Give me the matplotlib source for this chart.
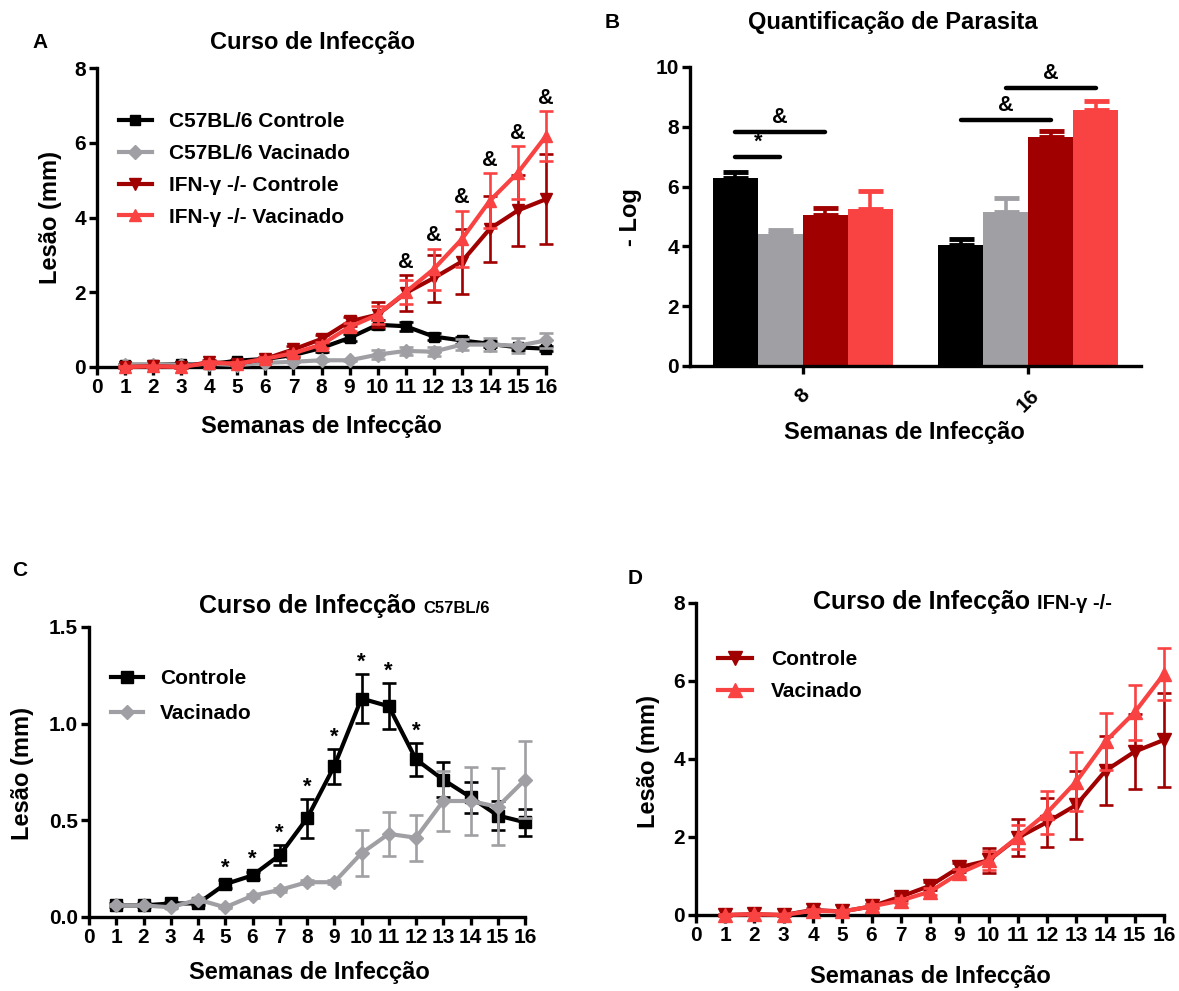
import numpy as np
import matplotlib
matplotlib.use("Agg")
import matplotlib.pyplot as plt

plt.rcParams["font.family"] = ["Liberation Sans", "DejaVu Sans"]
plt.rcParams["font.weight"] = "bold"

# ---- data -------------------------------------------------------------
weeks = list(range(1, 17))
week_ticks = list(range(0, 17))

c57_ctrl = [0.06, 0.06, 0.07, 0.07, 0.17, 0.215, 0.32, 0.51, 0.78, 1.13, 1.09, 0.815, 0.71, 0.62, 0.525, 0.49]
c57_ctrl_sem = [0.01, 0.01, 0.01, 0.01, 0.02, 0.02, 0.05, 0.10, 0.09, 0.125, 0.12, 0.085, 0.09, 0.08, 0.075, 0.07]
c57_vac = [0.06, 0.06, 0.05, 0.09, 0.05, 0.11, 0.14, 0.18, 0.18, 0.33, 0.43, 0.41, 0.60, 0.60, 0.57, 0.71]
c57_vac_sem = [0.005, 0.005, 0.005, 0.01, 0.005, 0.01, 0.01, 0.01, 0.01, 0.12, 0.115, 0.12, 0.155, 0.175, 0.20, 0.20]

ifn_ctrl = [0.0, 0.02, 0.0, 0.13, 0.09, 0.22, 0.47, 0.75, 1.22, 1.40, 1.98, 2.38, 2.82, 3.70, 4.19, 4.49]
ifn_ctrl_sem = [0.02, 0.02, 0.02, 0.05, 0.04, 0.05, 0.08, 0.10, 0.12, 0.33, 0.47, 0.63, 0.86, 0.88, 0.96, 1.20]
ifn_vac = [0.0, 0.02, 0.0, 0.11, 0.09, 0.22, 0.37, 0.60, 1.07, 1.40, 2.00, 2.62, 3.42, 4.45, 5.20, 6.18]
ifn_vac_sem = [0.02, 0.02, 0.02, 0.04, 0.04, 0.05, 0.07, 0.08, 0.10, 0.24, 0.32, 0.55, 0.75, 0.73, 0.70, 0.66]

# significance marks
amp_weeks_A = [11, 12, 13, 14, 15, 16]
star_weeks_C = [5, 6, 7, 8, 9, 10, 11, 12]

# parasite load (-log) at 8 and 16 weeks
bar_weeks = ["8", "16"]
bar_groups = ["C57BL/6 Controle", "C57BL/6 Vacinado", "IFN-γ -/- Controle", "IFN-γ -/- Vacinado"]
load_w8 = [6.30, 4.40, 5.05, 5.25]
load_w8_err = [0.20, 0.15, 0.22, 0.60]
load_w16 = [4.05, 5.15, 7.65, 8.55]
load_w16_err = [0.20, 0.48, 0.22, 0.30]

# comparison brackets: (week index, group a, group b, height, symbol)
brackets = [
    (0, 0, 1, 7.0, "*"),
    (0, 0, 2, 7.83, "&"),
    (1, 0, 2, 8.22, "&"),
    (1, 1, 3, 9.30, "&"),
]

# ---- style ------------------------------------------------------------
BLACK = "#000000"
GRAY = "#a0a0a4"
DARK = "#a00000"
RED = "#f94343"

TICK_FS = 15
LABEL_FS = 17
LEG_FS = 15
MARK_FS = 15.5

W, H = 1179, 991
fig = plt.figure(figsize=(W / 100, H / 100), dpi=100)


def px_axes(x0, y0, x1, y1):
    return fig.add_axes([x0 / W, 1 - y1 / H, (x1 - x0) / W, (y1 - y0) / H])


def style(ax, xticks, yticks, ylim, xlim):
    for s in ("top", "right"):
        ax.spines[s].set_visible(False)
    for s in ("left", "bottom"):
        ax.spines[s].set_linewidth(2.4)
    ax.tick_params(width=2.4, length=6, labelsize=TICK_FS, pad=2)
    ax.set_xticks(xticks)
    ax.set_yticks(yticks)
    ax.set_ylim(*ylim)
    ax.set_xlim(*xlim)


def series(ax, y, err, color, marker, ms, z):
    cont = ax.errorbar(weeks, y, yerr=err, color=color, lw=3.0, marker=marker,
                       ms=ms, capsize=5, elinewidth=1.9, capthick=1.9, zorder=z)
    for art in cont.get_children():
        art.set_clip_on(False)
    return cont


def ftext(x, y, s, **kw):
    kw.setdefault("ha", "center")
    kw.setdefault("va", "center")
    return fig.text(x / W, 1 - y / H, s, **kw)


def legend(ax, handles, labels, x, y, spacing, hl, pad):
    ax.legend(handles, labels, loc="upper left",
              bbox_to_anchor=(x / W, 1 - y / H), bbox_transform=fig.transFigure,
              frameon=False, fontsize=LEG_FS, borderpad=0, borderaxespad=0,
              handlelength=hl, handletextpad=pad, labelspacing=spacing, numpoints=1)


# ---- A ----------------------------------------------------------------
axA = px_axes(97, 68, 546, 367)
style(axA, week_ticks, [0, 2, 4, 6, 8], (0, 8), (0, 16))
hA = [
    series(axA, c57_ctrl, c57_ctrl_sem, BLACK, "s", 7.8, 3),
    series(axA, c57_vac, c57_vac_sem, GRAY, "D", 6.8, 4),
    series(axA, ifn_ctrl, ifn_ctrl_sem, DARK, "v", 8.8, 5),
    series(axA, ifn_vac, ifn_vac_sem, RED, "^", 8.8, 6),
]
for w in amp_weeks_A:
    i = weeks.index(w)
    top = max(ifn_vac[i] + ifn_vac_sem[i], ifn_ctrl[i] + ifn_ctrl_sem[i])
    axA.annotate("&", (w, top), xytext=(0, 2), textcoords="offset points",
                 ha="center", va="bottom", fontsize=MARK_FS)
legend(axA, [h[0] for h in hA], bar_groups, 119, 112, 0.62, 1.58, 0.82)
ftext(40, 42, "A", fontsize=15)
ftext(313, 42, "Curso de Infecção", fontsize=17)
ftext(51, 218, "Lesão (mm)", fontsize=LABEL_FS, rotation=90)
ftext(321, 427, "Semanas de Infecção", fontsize=LABEL_FS)

# ---- B ----------------------------------------------------------------
axB = px_axes(690, 67, 1141, 366)
style(axB, [0, 1], [0, 2, 4, 6, 8, 10], (0, 10), (-0.5, 1.5))
bw = 0.2
colors = [BLACK, GRAY, DARK, RED]
offsets = [-1.5 * bw, -0.5 * bw, 0.5 * bw, 1.5 * bw]
for k in range(4):
    xs = [0 + offsets[k], 1 + offsets[k]]
    vals = [load_w8[k], load_w16[k]]
    errs = [load_w8_err[k], load_w16_err[k]]
    axB.bar(xs, vals, width=bw, color=colors[k], zorder=2)
    axB.errorbar(xs, vals, yerr=[[0, 0], errs], fmt="none", ecolor=colors[k],
                 elinewidth=2.6, capsize=9, capthick=3.5, zorder=1)
for wi, a, b, hgt, sym in brackets:
    xa, xb = wi + offsets[a], wi + offsets[b]
    axB.plot([xa, xb], [hgt, hgt], color=BLACK, lw=3.2, solid_capstyle="round")
    axB.annotate(sym, ((xa + xb) / 2, hgt), xytext=(0, 3), textcoords="offset points",
                 ha="center", va="bottom", fontsize=MARK_FS)
axB.set_xticklabels(bar_weeks, rotation=45, ha="center", va="top")
axB.tick_params(axis="x", pad=8)
ftext(612, 23, "B", fontsize=15)
ftext(893, 23, "Quantificação de Parasita", fontsize=17)
ftext(631, 217, "- Log", fontsize=LABEL_FS, rotation=90)
ftext(904, 433, "Semanas de Infecção", fontsize=LABEL_FS)

# ---- C ----------------------------------------------------------------
axC = px_axes(89, 627, 525, 917)
style(axC, week_ticks, [0.0, 0.5, 1.0, 1.5], (0, 1.5), (0, 16))
axC.yaxis.set_major_formatter(matplotlib.ticker.FormatStrFormatter("%.1f"))
hC = [
    series(axC, c57_ctrl, c57_ctrl_sem, BLACK, "s", 9, 3),
    series(axC, c57_vac, c57_vac_sem, GRAY, "D", 7.5, 4),
]
for w in star_weeks_C:
    i = weeks.index(w)
    axC.annotate("*", (w, c57_ctrl[i] + c57_ctrl_sem[i]), xytext=(0, 1),
                 textcoords="offset points", ha="center", va="bottom", fontsize=16)
legend(axC, [h[0] for h in hC], ["Controle", "Vacinado"], 111, 669, 0.77, 1.54, 0.82)
ftext(20, 570, "C", fontsize=15)
ftext(23, 774, "Lesão (mm)", fontsize=LABEL_FS, rotation=90)
ftext(309, 973, "Semanas de Infecção", fontsize=LABEL_FS)

# ---- D ----------------------------------------------------------------
axD = px_axes(696, 603, 1164, 915)
style(axD, week_ticks, [0, 2, 4, 6, 8], (0, 8), (0, 16))
hD = [
    series(axD, ifn_ctrl, ifn_ctrl_sem, DARK, "v", 9.5, 5),
    series(axD, ifn_vac, ifn_vac_sem, RED, "^", 9.5, 6),
]
legend(axD, [h[0] for h in hD], ["Controle", "Vacinado"], 718, 650, 0.62, 1.63, 0.91)
ftext(635, 578, "D", fontsize=15)
ftext(648, 761, "Lesão (mm)", fontsize=LABEL_FS, rotation=90)
ftext(930, 977, "Semanas de Infecção", fontsize=LABEL_FS)

# two-size titles for C and D
renderer = fig.canvas.get_renderer()
for x0, yb, main, sub, sub_fs in [(199, 613, "Curso de Infecção", "C57BL/6", 12),
                                  (813, 609, "Curso de Infecção", "IFN-γ -/-", 14.5)]:
    t1 = ftext(x0, yb, main, fontsize=18, ha="left", va="baseline")
    ext = t1.get_window_extent(renderer=renderer)
    fig.text(ext.x1 / W + 7 / W, 1 - yb / H, sub, fontsize=sub_fs, ha="left", va="baseline")

fig.savefig("out.png", dpi=100)
